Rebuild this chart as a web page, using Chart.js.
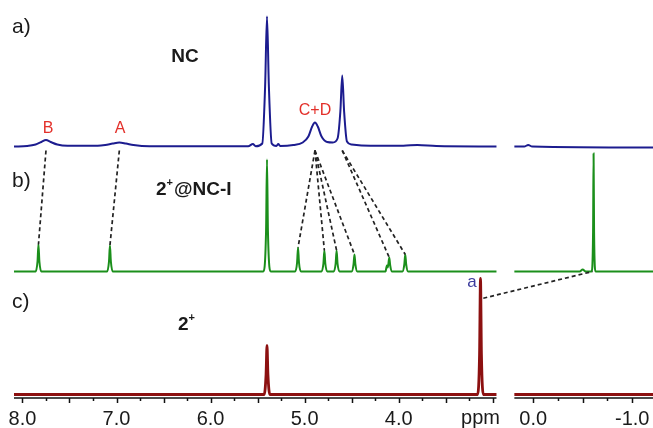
<!DOCTYPE html>
<html>
<head>
<meta charset="utf-8">
<script src="https://cdn.jsdelivr.net/npm/chart.js@4.4.1/dist/chart.umd.min.js"></script>
<style>
  html, body { margin: 0; padding: 0; background: #fff; }
  #wrap { width: 653px; height: 428px; }
</style>
</head>
<body>
<div id="wrap"><canvas id="nmr" width="653" height="428"></canvas></div>
<script>
// x ranges of the two panels (ppm), broken axis
const leftRange = [8.09, 2.96];
const rightRange = [0.19, -1.21];

// a) NC  (blue)
const ncPpm = [8.09, 7.95, 7.86, 7.80, 7.75, 7.70, 7.63, 7.52, 7.20, 7.12, 7.04, 6.97, 6.90, 6.82, 6.65,
  5.60, 5.55, 5.52, 5.45, 5.42, 5.40, 5.38, 5.35, 5.30, 5.28, 5.26, 5.12, 5.02, 4.96, 4.92, 4.89, 4.86,
  4.82, 4.76, 4.70, 4.65, 4.62, 4.60, 4.58, 4.55, 4.50, 4.30, 3.95, 3.80, 3.60, 2.96];
const ncInt = [0, 0.5, 2, 4.5, 6.5, 4.5, 2, 0.8, 0.8, 1.5, 3, 4, 3, 1.5, 0.3,
  0.3, 2.5, 0.3, 3, 60, 130, 60, 3, 0.5, 2.5, 0.5, 1.5, 4, 10, 20, 24, 20,
  10, 4.5, 4, 8, 35, 71, 35, 5, 2, 0.8, 0.8, 1.5, 0.5, 0];
const ncPpmR = [0.19, 0.09, 0.05, 0.01, -1.21];
const ncIntR = [0, 0, 1.5, 0, -1];

// b) 2+@NC-I  (green)
const hgPpm = [8.09, 7.86, 7.84, 7.83, 7.82, 7.80, 7.10, 7.08, 7.07, 7.06, 7.04,
  5.44, 5.41, 5.40, 5.39, 5.36, 5.10, 5.08, 5.07, 5.06, 5.04, 4.82, 4.80, 4.79, 4.78, 4.76,
  4.69, 4.67, 4.66, 4.65, 4.63, 4.50, 4.48, 4.47, 4.46, 4.44, 4.14, 4.125, 4.115, 4.10, 4.09, 4.07,
  3.96, 3.94, 3.93, 3.92, 3.90, 2.96];
const hgInt = [0, 0, 10, 27, 10, 0, 0, 10, 26, 10, 0,
  0, 40, 112, 40, 0, 0, 9, 24, 9, 0, 0, 8, 21, 8, 0,
  0, 8, 21, 8, 0, 0, 7, 17, 7, 0, 0, 6, 4, 14, 6, 0,
  0, 7, 17, 7, 0, 0];
const hgPpmR = [0.19, -0.47, -0.50, -0.53, -0.59, -0.605, -0.61, -0.615, -0.63, -1.21];
const hgIntR = [0, 0, 2, 0, 0, 40, 118, 40, 0, 0];

// c) 2+  (dark red)
const guPpm = [8.09, 5.43, 5.41, 5.40, 5.39, 5.37, 3.16, 3.14, 3.13, 3.12, 3.10, 2.96];
const guInt = [0, 0, 20, 49, 20, 0, 0, 40, 116, 40, 0, 0];
const guPpmR = [0.19, -1.21];
const guIntR = [0, 0];

// dashed correlation lines: NC peak -> complex peak
const linkFrom = [7.75, 6.97, 4.89, 4.89, 4.89, 4.89, 4.60, 4.60];
const linkTo = [7.83, 7.07, 5.07, 4.79, 4.66, 4.47, 4.10, 3.93];

// axis ticks
const labelPpm = [8, 7, 6, 5, 4, 0, -1];
const labelText = ['8.0', '7.0', '6.0', '5.0', '4.0', '0.0', '-1.0'];
const majorPpm = [8, 7.5, 7, 6.5, 6, 5.5, 5, 4.5, 4, 3.5, 3, 0, -0.5, -1];
const minorPpm = [7.75, 7.25, 6.75, 6.25, 5.75, 5.25, 4.75, 4.25, 3.75, 3.25, -0.25, -0.75];

// layout: vertical offsets of the stacked traces (in px units of the y scale)
const OFF_A = 251.5, OFF_B = 126.5, OFF_C = 3.5;
const GAP = 0.19, RSCALE = 1.053;

function toU(p) {
  if (p >= 2) return leftRange[0] - p;
  return (leftRange[0] - leftRange[1]) + GAP + (rightRange[0] - p) * RSCALE;
}
const uMax = toU(rightRange[1]);

function trace(pL, iL, pR, iR, off) {
  const pts = pL.map((p, i) => ({ x: toU(p), y: off + iL[i] }));
  pts.push({ x: (toU(leftRange[1]) + toU(rightRange[0])) / 2, y: null });
  pR.forEach((p, i) => pts.push({ x: toU(p), y: off + iR[i] }));
  return pts;
}

function peakHeight(pp, ii, p) {
  const k = pp.indexOf(p);
  return ii[k];
}

const dashStyle = { borderColor: '#222', borderWidth: 1.7, borderDash: [4, 3], pointRadius: 0, fill: false, tension: 0 };
const datasets = [];
linkFrom.forEach((f, i) => {
  datasets.push(Object.assign({
    data: [
      { x: toU(f), y: OFF_A - 4 },
      { x: toU(linkTo[i]), y: OFF_B + peakHeight(hgPpm, hgInt, linkTo[i]) }
    ]
  }, dashStyle));
});
// guest 'a' signal shifted upfield on inclusion
datasets.push(Object.assign({
  data: [
    { x: toU(3.10), y: OFF_C + peakHeight(guPpm, guInt, 3.13) * 0.83 },
    { x: toU(-0.60), y: OFF_B }
  ]
}, dashStyle));

const lineStyle = { pointRadius: 0, fill: false, cubicInterpolationMode: 'monotone', spanGaps: false };
datasets.push(Object.assign({ data: trace(ncPpm, ncInt, ncPpmR, ncIntR, OFF_A), borderColor: '#1c1c8f', borderWidth: 2 }, lineStyle));
datasets.push(Object.assign({ data: trace(hgPpm, hgInt, hgPpmR, hgIntR, OFF_B), borderColor: '#1b8f1b', borderWidth: 2 }, lineStyle));
datasets.push(Object.assign({ data: trace(guPpm, guInt, guPpmR, guIntR, OFF_C), borderColor: '#8c1010', borderWidth: 2.8 }, lineStyle));

const FONT = '"Liberation Sans", Arial, sans-serif';

const decor = {
  id: 'decor',
  afterDraw(chart) {
    const { ctx, scales: { x, y } } = chart;
    const y0 = y.getPixelForValue(0);
    ctx.save();
    ctx.strokeStyle = '#111';
    ctx.lineWidth = 1.5;
    ctx.beginPath();
    [leftRange, rightRange].forEach(r => {
      ctx.moveTo(x.getPixelForValue(toU(r[0])), y0);
      ctx.lineTo(x.getPixelForValue(toU(r[1])), y0);
    });
    majorPpm.forEach(p => {
      const px = Math.round(x.getPixelForValue(toU(p))) + 0.5;
      ctx.moveTo(px, y0); ctx.lineTo(px, y0 + 5);
    });
    minorPpm.forEach(p => {
      const px = Math.round(x.getPixelForValue(toU(p))) + 0.5;
      ctx.moveTo(px, y0); ctx.lineTo(px, y0 + 3);
    });
    ctx.stroke();

    ctx.textBaseline = 'alphabetic';
    ctx.fillStyle = '#1a1a1a';
    ctx.font = '20px ' + FONT;
    ctx.textAlign = 'center';
    ctx.fillText('ppm', x.getPixelForValue(toU(3.13)), 424);

    ctx.textAlign = 'left';
    ctx.font = '21px ' + FONT;
    ctx.fillText('a)', 12, 33);
    ctx.fillText('b)', 12, 187);
    ctx.fillText('c)', 12, 308);

    // sample names
    ctx.font = 'bold 19px ' + FONT;
    ctx.textAlign = 'center';
    ctx.fillText('NC', 185, 62);
    function sup(parts, x0, base) {
      let cx = x0;
      ctx.textAlign = 'left';
      parts.forEach(([t, s]) => {
        ctx.font = (s ? 'bold 11px ' : 'bold 19px ') + FONT;
        ctx.fillText(t, cx, s ? base - 9 : base);
        cx += ctx.measureText(t).width + (s ? 1 : 0);
      });
    }
    sup([['2', 0], ['+', 1], ['@NC-I', 0]], 156, 195);
    sup([['2', 0], ['+', 1]], 178, 330);

    // peak labels
    ctx.textAlign = 'center';
    ctx.fillStyle = '#e3302a';
    ctx.font = '16px ' + FONT;
    ctx.fillText('B', 48, 133);
    ctx.fillText('A', 120, 133);
    ctx.fillText('C+D', 315, 115);
    ctx.fillStyle = '#3b3b9c';
    ctx.font = '17px ' + FONT;
    ctx.fillText('a', 472, 287);
    ctx.restore();
  }
};

new Chart(document.getElementById('nmr'), {
  type: 'line',
  data: { datasets },
  options: {
    responsive: false,
    animation: false,
    devicePixelRatio: 1,
    layout: { padding: { left: 14, right: 0, top: 0, bottom: -12 } },
    plugins: { legend: { display: false }, tooltip: { enabled: false } },
    scales: {
      x: {
        type: 'linear',
        min: 0,
        max: uMax,
        border: { display: false },
        grid: { display: false, drawTicks: false },
        afterBuildTicks: s => { s.ticks = labelPpm.map(p => ({ value: toU(p) })); },
        afterFit: s => { s.paddingLeft = 0; s.paddingRight = 0; },
        ticks: {
          autoSkip: false,
          maxRotation: 0,
          padding: 11,
          color: '#1a1a1a',
          font: { family: FONT, size: 20, lineHeight: 1 },
          callback: (v, i) => labelText[i]
        }
      },
      y: { display: false, min: 0, max: 398 }
    }
  },
  plugins: [decor]
});
</script>
</body>
</html>
